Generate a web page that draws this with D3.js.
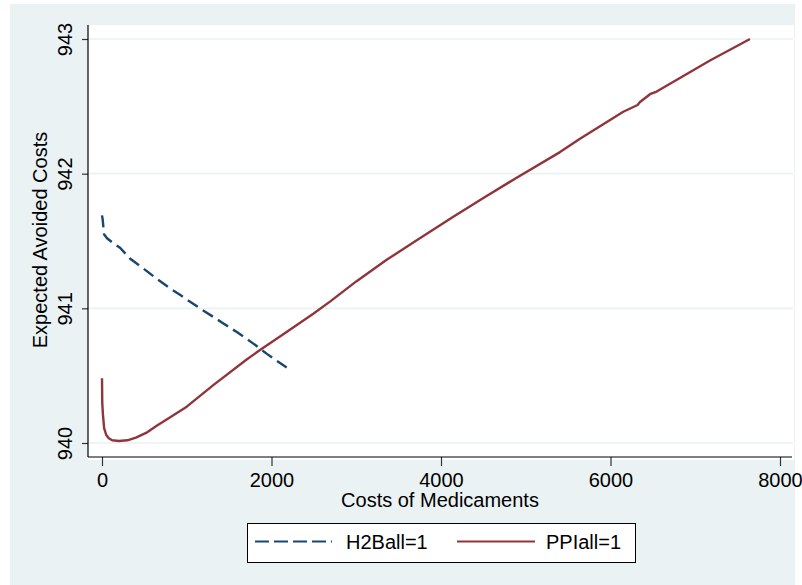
<!DOCTYPE html>
<html>
<head>
<meta charset="utf-8">
<script src="https://cdn.jsdelivr.net/npm/d3@7/dist/d3.min.js"></script>
<style>
  html, body { margin: 0; padding: 0; background: #ffffff; }
  svg { display: block; }
  text { font-family: "Liberation Sans", Arial, sans-serif; fill: #000; }
</style>
</head>
<body>
<svg id="chart" width="802" height="585"></svg>
<script>
// ---- data ----
const xTicks = [0, 2000, 4000, 6000, 8000];
const yTicks = [940, 941, 942, 943];

const h2bX = [0, 8, 24, 60, 120, 212, 330, 480, 645, 800, 920, 1156, 1428, 1600, 1782, 1950, 2179];
const h2bY = [941.69, 941.66, 941.55, 941.52, 941.49, 941.45, 941.37, 941.30, 941.22, 941.15, 941.10, 941.00, 940.89, 940.82, 940.74, 940.66, 940.56];

const ppiX = [0, 3, 10, 25, 50, 80, 120, 200, 300, 400, 520, 650, 800, 1000, 1313, 1707, 1864, 2100, 2493, 2690, 3000, 3359, 3700, 4145, 4500, 4893, 5404, 5640, 6151, 6320, 6345, 6466, 6545, 7174, 7646];
const ppiY = [940.48, 940.30, 940.22, 940.11, 940.06, 940.035, 940.02, 940.015, 940.02, 940.04, 940.075, 940.13, 940.19, 940.27, 940.43, 940.62, 940.69, 940.79, 940.96, 941.05, 941.20, 941.36, 941.50, 941.68, 941.82, 941.97, 942.16, 942.26, 942.46, 942.51, 942.53, 942.59, 942.61, 942.84, 943.00];

const seriesNames = ["H2Ball=1", "PPIall=1"];
const xTitle = "Costs of Medicaments";
const yTitle = "Expected Avoided Costs";

// ---- layout ----
const svg = d3.select("#chart");
const BG = "#EAF2F3";
const BLUE = "#1A476F";
const RED = "#90353B";

svg.append("rect").attr("x", 10).attr("y", 4).attr("width", 785).attr("height", 581).attr("fill", BG);
svg.append("rect").attr("x", 88).attr("y", 25).attr("width", 706).attr("height", 435).attr("fill", "#ffffff");

const x = d3.scaleLinear().domain([0, 8000]).range([102, 780]);
const y = d3.scaleLinear().domain([940, 943]).range([443, 39]);

// gridlines
svg.append("g").selectAll("line").data(yTicks).join("line")
  .attr("x1", 88).attr("x2", 793)
  .attr("y1", d => y(d)).attr("y2", d => y(d))
  .attr("stroke", BG).attr("stroke-width", 1.6);

// axes
const xAxis = d3.axisBottom(x).tickValues(xTicks).tickSize(9).tickPadding(4).tickFormat(d3.format("d"));
const gx = svg.append("g").attr("transform", "translate(0,457)").call(xAxis);
gx.select(".domain").remove();
gx.append("line").attr("x1", 88).attr("x2", 792).attr("y1", 0).attr("y2", 0).attr("stroke", "#000").attr("stroke-width", 1.2);
gx.selectAll(".tick line").attr("stroke", "#333").attr("stroke-width", 1.2);
gx.selectAll(".tick text").attr("font-size", 20).attr("font-family", "Liberation Sans, Arial, sans-serif").attr("fill", "#000").attr("dy", null).attr("y", 30);

const yAxis = d3.axisLeft(y).tickValues(yTicks).tickSize(6).tickFormat(d3.format("d"));
const gy = svg.append("g").attr("transform", "translate(88,0)").call(yAxis);
gy.select(".domain").remove();
gy.append("line").attr("x1", 0).attr("x2", 0).attr("y1", 25).attr("y2", 457).attr("stroke", "#000").attr("stroke-width", 1.2);
gy.selectAll(".tick line").attr("stroke", "#333").attr("stroke-width", 1.2);
gy.selectAll(".tick text")
  .attr("font-size", 20).attr("font-family", "Liberation Sans, Arial, sans-serif").attr("fill", "#000")
  .attr("x", null).attr("dy", null).attr("y", null)
  .attr("text-anchor", "middle")
  .attr("transform", "translate(-16,0) rotate(-90)");

// titles
svg.append("text").attr("x", 440).attr("y", 507).attr("text-anchor", "middle").attr("font-size", 20).text(xTitle);
svg.append("text").attr("transform", "translate(47,240) rotate(-90)").attr("text-anchor", "middle").attr("font-size", 20).text(yTitle);

// lines
const line = d3.line().x(d => x(d[0])).y(d => y(d[1]));
const h2b = h2bX.map((v, i) => [v, h2bY[i]]);
const ppi = ppiX.map((v, i) => [v, ppiY[i]]);

svg.append("path").datum(ppi).attr("d", line).attr("fill", "none")
  .attr("stroke", RED).attr("stroke-width", 2.4).attr("stroke-linejoin", "round");
svg.append("path").datum(h2b).attr("d", line).attr("fill", "none")
  .attr("stroke", BLUE).attr("stroke-width", 2.4).attr("stroke-dasharray", "12,6");

// legend
const lg = svg.append("g");
lg.append("rect").attr("x", 247.5).attr("y", 523.5).attr("width", 388).attr("height", 39)
  .attr("fill", "#fff").attr("stroke", "#000").attr("stroke-width", 1);
lg.append("line").attr("x1", 255).attr("x2", 332).attr("y1", 541.5).attr("y2", 541.5)
  .attr("stroke", BLUE).attr("stroke-width", 2).attr("stroke-dasharray", "14,5");
lg.append("text").attr("x", 346).attr("y", 549).attr("font-size", 20).text(seriesNames[0]);
lg.append("line").attr("x1", 457).attr("x2", 535).attr("y1", 541.5).attr("y2", 541.5)
  .attr("stroke", RED).attr("stroke-width", 2);
lg.append("text").attr("x", 546).attr("y", 549).attr("font-size", 20).text(seriesNames[1]);
</script>
</body>
</html>
